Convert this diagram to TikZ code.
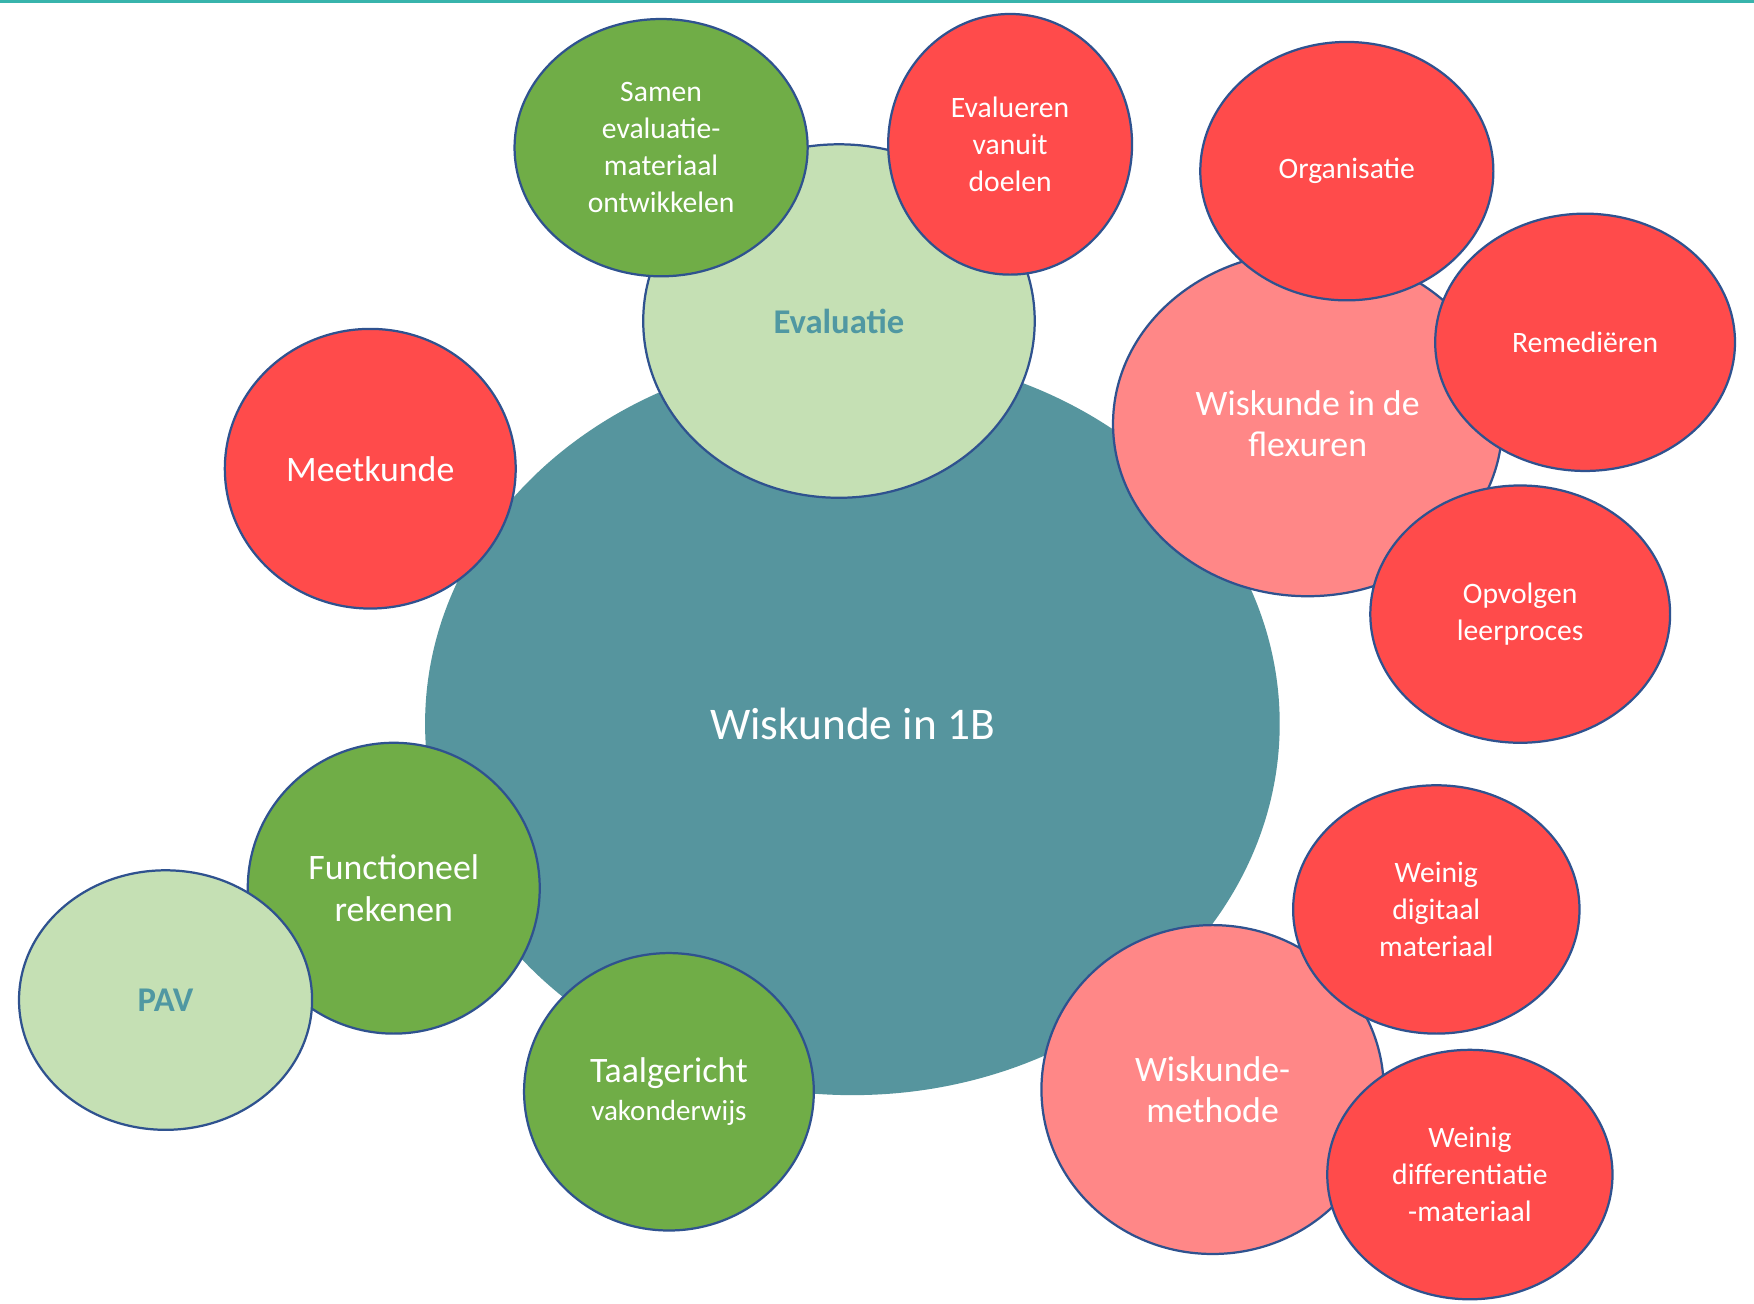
\documentclass[tikz,border=0pt]{standalone}
\usepackage{fontspec}
\setmainfont{Carlito}
\usetikzlibrary{shapes.geometric}
\definecolor{mainteal}{RGB}{86,149,158}
\definecolor{topline}{RGB}{56,180,172}
\definecolor{lgreen}{RGB}{197,224,180}
\definecolor{dgreen}{RGB}{112,173,71}
\definecolor{bred}{RGB}{255,75,75}
\definecolor{pink}{RGB}{255,135,135}
\definecolor{edgeblue}{RGB}{47,82,143}
\definecolor{tealtext}{RGB}{80,152,162}
\tikzset{
  bub/.style={ellipse, draw=edgeblue, line width=2pt, inner sep=0pt, align=center, text=white},
  fsmall/.style={font=\fontsize{26.5}{33}\selectfont},
  fmed/.style={font=\fontsize{32}{37}\selectfont},
  fbold/.style={text=tealtext, font=\fontsize{31}{36}\selectfont\bfseries},
}
\begin{document}
\begin{tikzpicture}[x=1pt,y=-1pt]
\useasboundingbox (0,0) rectangle (1568,1165);
\fill[white] (0,0) rectangle (1568,1165);
\fill[topline] (0,0) rectangle (1568,3);
% main
\node[ellipse, fill=mainteal, inner sep=0pt, minimum width=764, minimum height=664, text=white, font=\fontsize{40.5}{46}\selectfont] (main) at (762,647) {Wiskunde in 1B};
% evaluatie cluster
\node[bub, fill=lgreen, minimum width=350, minimum height=316, fbold] (eval) at (750,287) {Evaluatie};
\node[bub, fill=dgreen, minimum width=262, minimum height=230, fsmall] (samen) at (591,132) {Samen\\evaluatie-\\materiaal\\ontwikkelen};
\node[bub, fill=bred, minimum width=218, minimum height=233, fsmall] (evalu) at (903,129) {Evalueren\\vanuit\\doelen};
% meetkunde
\node[bub, fill=bred, minimum width=260, minimum height=250, fmed] (meet) at (331,419) {Meetkunde};
% flexuren cluster
\node[bub, fill=pink, minimum width=348, minimum height=308, fmed] (flex) at (1169,379) {Wiskunde in de\\flexuren};
\node[bub, fill=bred, minimum width=262, minimum height=231, fsmall] (org) at (1204,153) {Organisatie};
\node[bub, fill=bred, minimum width=268, minimum height=230, fsmall] (rem) at (1417,306) {Remediëren};
\node[bub, fill=bred, minimum width=268, minimum height=230, fsmall] (opv) at (1359,549) {Opvolgen\\leerproces};
% functioneel rekenen
\node[bub, fill=dgreen, minimum width=261, minimum height=260, fmed] (func) at (352,794) {Functioneel\\rekenen};
\node[bub, fill=lgreen, minimum width=262, minimum height=232, fbold] (pav) at (148,894) {PAV};
% taalgericht
\node[bub, fill=dgreen, minimum width=259, minimum height=248, font=\fontsize{26}{34}\selectfont] (taal) at (598,976) {{\fontsize{32}{34}\selectfont Taalgericht}\\vakonderwijs};
% methode cluster
\node[bub, fill=pink, minimum width=306, minimum height=294, fmed] (meth) at (1084,974) {Wiskunde-\\methode};
\node[bub, fill=bred, minimum width=256, minimum height=222, fsmall] (dig) at (1284,813) {Weinig\\digitaal\\materiaal};
\node[bub, fill=bred, minimum width=255, minimum height=223, fsmall] (diff) at (1314,1050) {Weinig\\differentiatie\\-materiaal};
\end{tikzpicture}
\end{document}
